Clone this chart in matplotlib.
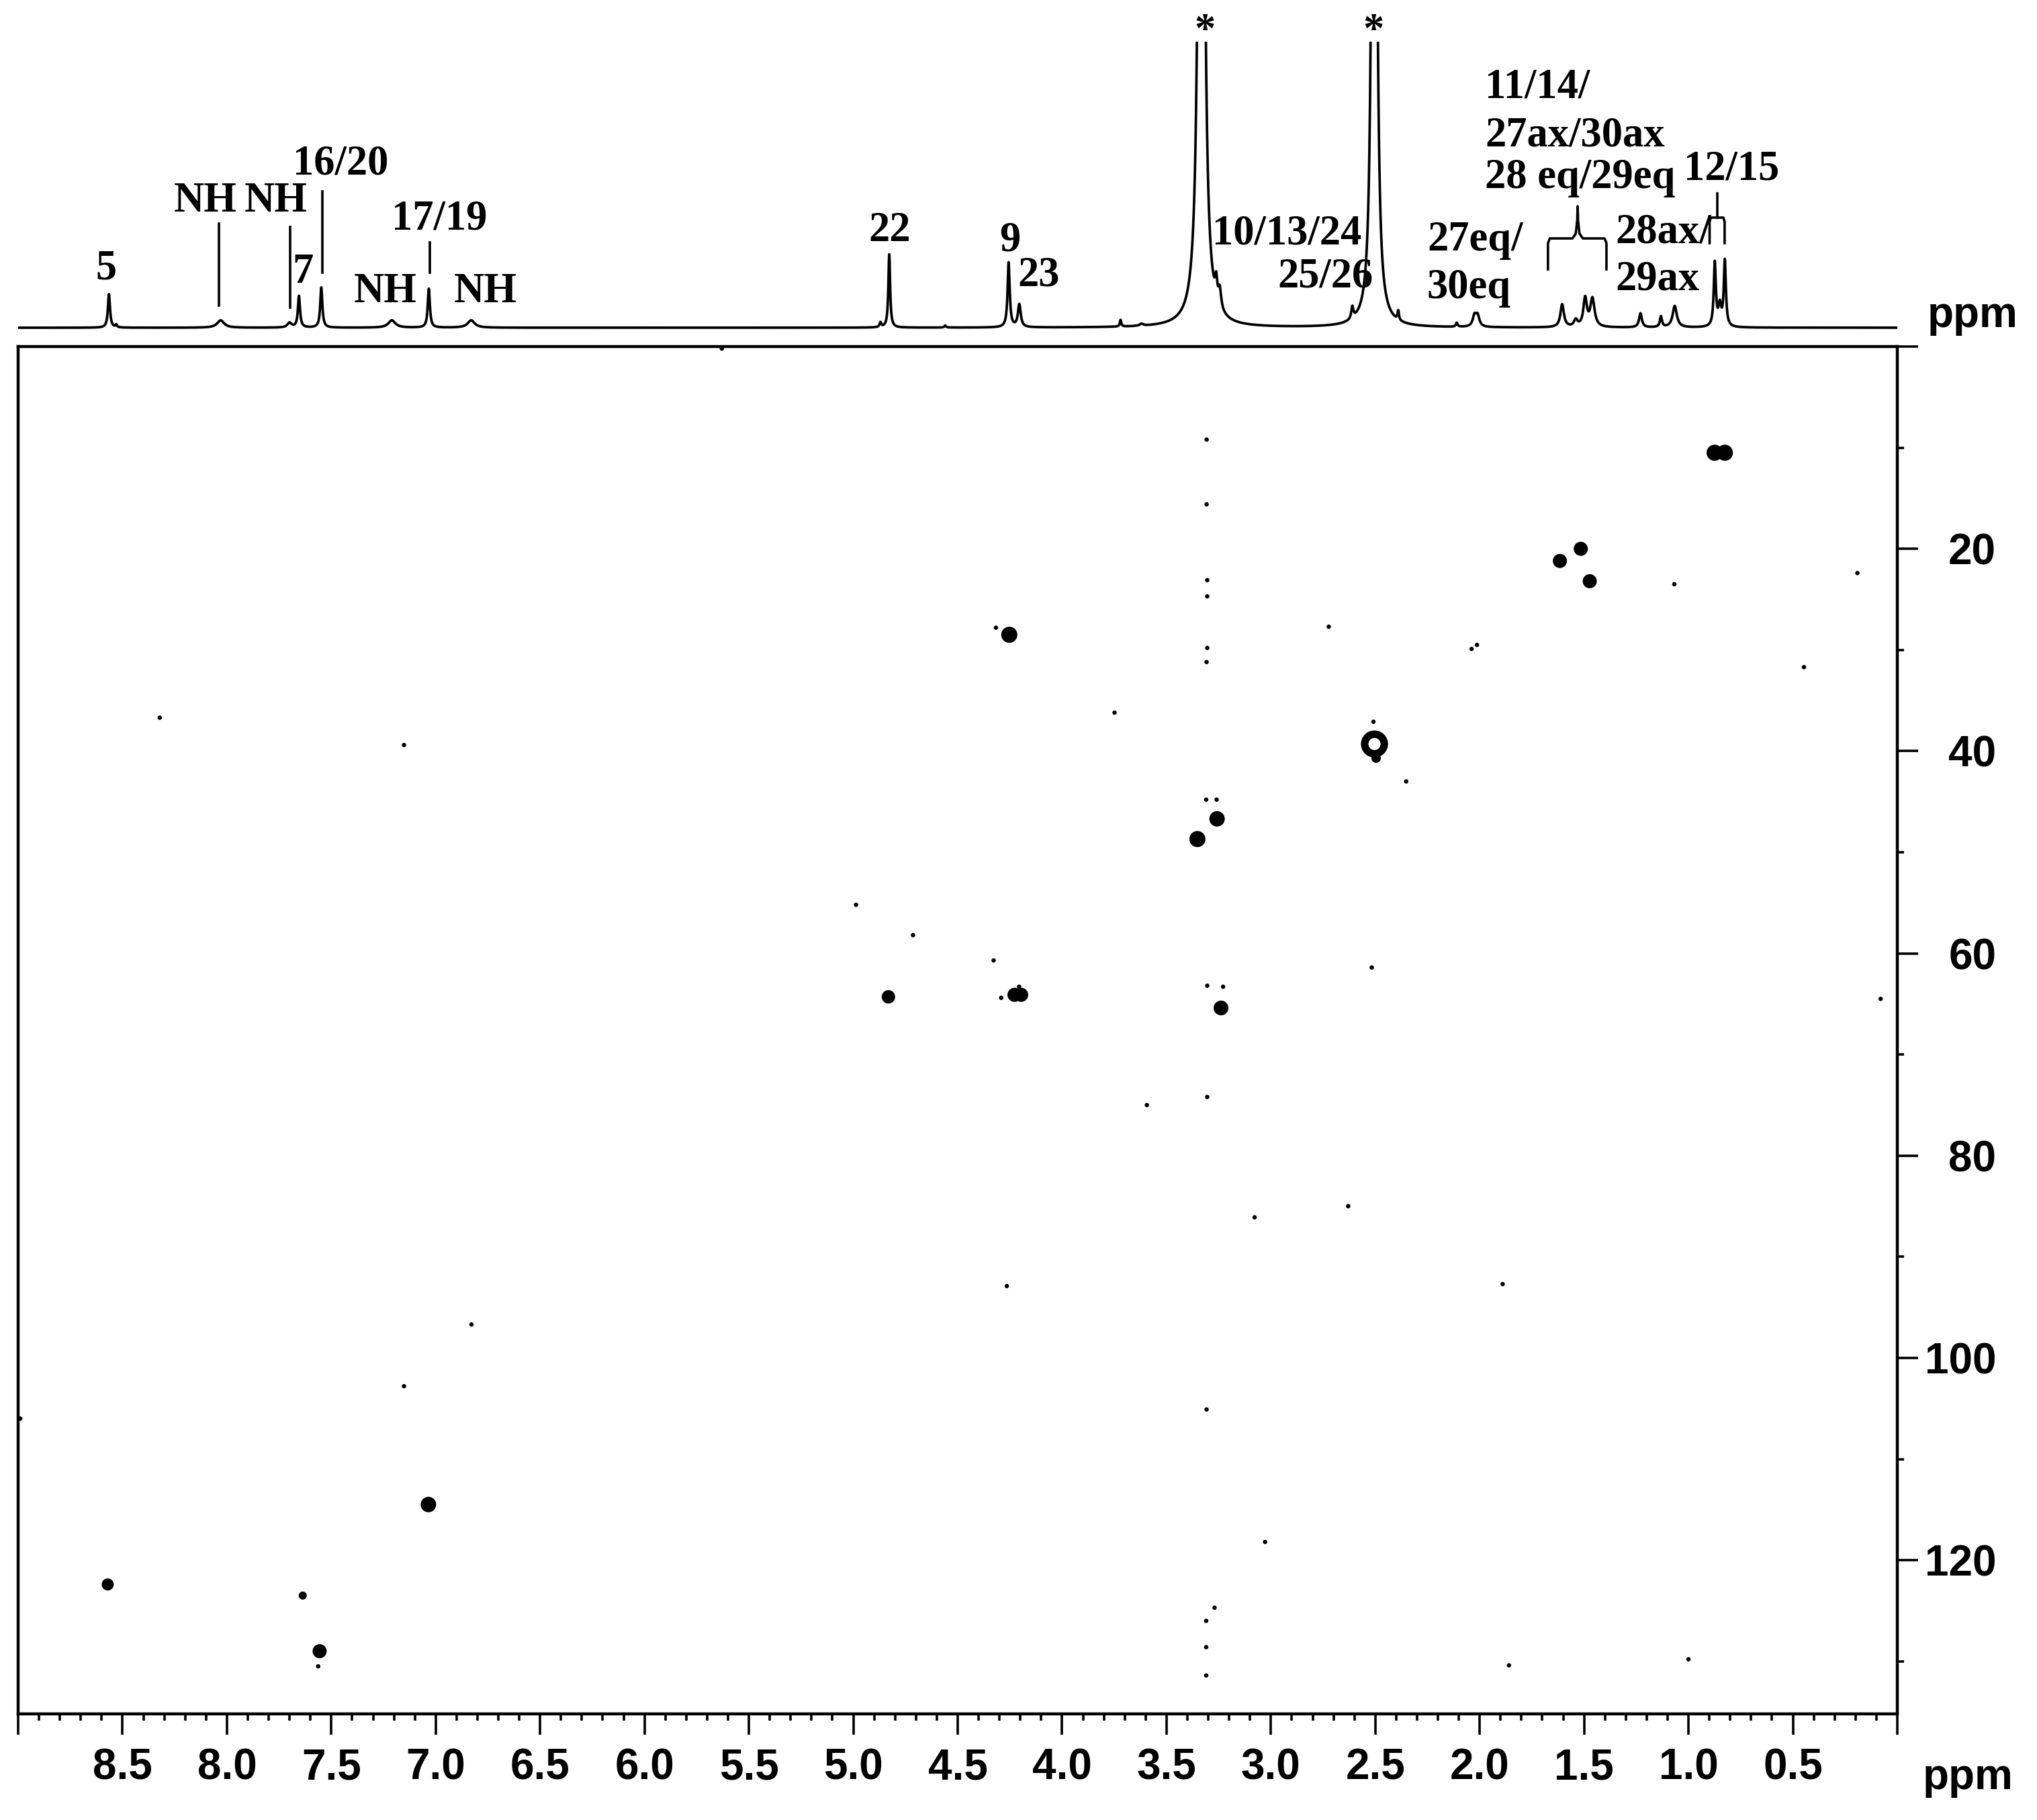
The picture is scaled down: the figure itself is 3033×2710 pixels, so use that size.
import numpy as np
import matplotlib.pyplot as plt
from matplotlib.ticker import FixedLocator, MultipleLocator, FuncFormatter

# 1H trace on top: shift (ppm), peak height (px above baseline), half width (ppm)
h_shift = [8.565, 8.53, 8.03, 7.70, 7.655, 7.548, 7.21, 7.033, 6.83,
           4.87, 4.828, 4.56, 4.256, 4.205, 3.72, 3.62,
           3.333, 3.262, 3.245, 2.61, 2.505, 2.39, 2.11, 2.025, 2.01,
           1.605, 1.54, 1.495, 1.46, 1.23, 1.132, 1.066, 0.874, 0.85, 0.826]
h_height = [50, 4, 11, 7, 47, 60, 11, 58, 11,
            7, 110, 3, 97, 34, 10, 3,
            2000, 30, 28, 18, 2500, 14, 6, 16, 16,
            34, 10, 42, 42, 21, 16, 32, 95, 30, 98]
h_width = [0.006, 0.004, 0.02, 0.012, 0.006, 0.006, 0.02, 0.006, 0.02,
           0.005, 0.005, 0.005, 0.006, 0.008, 0.004, 0.01,
           0.0112, 0.006, 0.008, 0.006, 0.008, 0.004, 0.005, 0.01, 0.01,
           0.01, 0.01, 0.01, 0.012, 0.008, 0.006, 0.012, 0.006, 0.008, 0.006]

# HSQC cross peaks: 1H shift, 13C shift, spot diameter (px)
cross_h = [0.875, 0.826, 1.616, 1.516, 1.473, 4.253, 3.352, 3.258, 4.832,
           4.228, 4.196, 3.239, 7.035, 8.571, 7.637, 7.556, 2.496]
cross_c = [10.5, 10.5, 21.2, 20.0, 23.2, 28.5, 48.7, 46.7, 64.3,
           64.1, 64.1, 65.4, 114.5, 122.4, 123.5, 129.0, 40.7]
cross_diam = [24, 24, 21, 21, 21, 24, 24, 23, 20,
              21, 21, 22, 23, 18, 12, 21, 14]

# solvent (DMSO) ring
ring_h = [2.504]
ring_c = [39.3]

# weak spots / t1 noise
noise_h = [3.308, 3.308, 3.305, 3.305, 3.305, 3.308, 3.31, 3.305, 3.305,
           3.308, 3.31, 3.31, 3.31,
           8.322, 7.152, 3.749, 2.723, 2.039, 2.013, 1.068, 0.191, 0.447,
           2.352, 4.987, 4.714, 4.328, 2.517, 0.08, 3.594, 3.078, 2.63,
           4.265, 1.89, 6.829, 7.152, 8.99, 3.028, 3.27, 1.86, 1.0, 7.563,
           5.63, 2.509, 3.26, 4.317, 4.292, 3.229, 4.206]
noise_c = [9.2, 15.6, 23.1, 24.7, 29.8, 31.2, 44.8, 63.2, 74.2,
           105.1, 126.0, 128.6, 131.4,
           36.7, 39.4, 36.2, 27.7, 29.9, 29.5, 23.5, 22.4, 31.7,
           43.0, 55.2, 58.2, 60.7, 61.4, 64.5, 75.0, 86.1, 85.0,
           92.9, 92.7, 96.7, 102.8, 106.0, 118.2, 124.7, 130.4, 129.8, 130.5,
           0.2, 37.1, 44.8, 27.8, 64.4, 63.3, 63.3]

# assignment labels on the 1H trace: text, shift, height, alignment
labels = [('5', 8.579, 87, 'center'), ('NH', 8.103, 188, 'center'),
          ('NH', 7.765, 188, 'center'), ('16/20', 7.456, 243, 'center'),
          ('7', 7.635, 82, 'center'), ('17/19', 6.984, 161, 'center'),
          ('NH', 7.241, 53, 'center'), ('NH', 6.763, 53, 'center'),
          ('22', 4.825, 144, 'center'), ('9', 4.249, 130, 'center'),
          ('23', 4.111, 78, 'center'), ('*', 3.316, 440, 'center'),
          ('*', 2.509, 440, 'center'),
          ('10/13/24', 3.281, 140, 'left'), ('25/26', 2.969, 75, 'left'),
          ('27eq/', 2.252, 130, 'left'), ('30eq', 2.252, 59, 'left'),
          ('11/14/', 1.975, 357, 'left'), ('27ax/30ax', 1.975, 285, 'left'),
          ('28 eq/29eq', 1.975, 223, 'left'), ('12/15', 1.023, 235, 'left'),
          ('28ax/', 1.351, 142, 'left'), ('29ax', 1.351, 71, 'left')]

# marker lines from labels down to peaks: shift, bottom, top
ticks_1d = [(8.037, 33, 155), (7.698, 30, 150), (7.544, 82, 203), (7.029, 82, 127)]

W, H = 3033, 2710


def box(l, t, r, b):
    return [l / W, 1 - b / H, (r - l) / W, (b - t) / H]


fig = plt.figure(figsize=(W / 100, H / 100), dpi=100)

# ---- 1D proton trace
ax1 = fig.add_axes(box(27, 62, 2825, 500))
ppm = np.linspace(0, 9, 9000)
spec = np.zeros_like(ppm)
for c, a, g in zip(h_shift, h_height, h_width):
    spec += a / (1 + ((ppm - c) / g) ** 2)
ax1.plot(ppm, spec, color='k', lw=2.7)
ax1.set_xlim(9, 0)
ax1.set_ylim(-12, 426)
ax1.axis('off')

serif = dict(family='Liberation Serif', weight='bold', fontsize=45)
for txt, x, y, ha in labels:
    ax1.text(x, y, txt, ha=ha, va='center', clip_on=False, **serif)
for x, y0, y1 in ticks_1d:
    ax1.plot([x, x], [y0, y1], color='k', lw=2.6, clip_on=False)

# brace over 11/14 group and bracket over 12/15
bx = [1.673, 1.673, 1.664, 1.556, 1.540, 1.533, 1.531, 1.529, 1.522, 1.506, 1.402, 1.393, 1.393]
by = [87, 126, 133, 133, 140, 160, 181, 160, 140, 133, 133, 126, 87]
ax1.plot(bx, by, color='k', lw=2.6, clip_on=False)
kx = [0.899, 0.899, 0.893, 0.833, 0.827, 0.827]
ky = [126, 158, 164, 164, 158, 126]
ax1.plot(kx, ky, color='k', lw=2.6, clip_on=False)
ax1.plot([0.863, 0.863], [164, 200], color='k', lw=2.6, clip_on=False)

# ---- 2D HSQC
ax2 = fig.add_axes(box(27, 516, 2825, 2552))
ax2.scatter(cross_h, cross_c, s=(np.array(cross_diam) * 0.72) ** 2,
            c='k', edgecolors='none', zorder=3)
ax2.scatter(ring_h, ring_c, s=21 ** 2, facecolors='none', edgecolors='k',
            linewidths=8, zorder=3)
ax2.scatter(noise_h, noise_c, s=22, c='k', edgecolors='none', zorder=3)

ax2.set_xlim(9, 0)
ax2.set_ylim(135.2, 0)
for sp in ax2.spines.values():
    sp.set_linewidth(3.2)

ax2.xaxis.set_major_locator(FixedLocator(np.arange(0, 9.01, 0.5)))
ax2.xaxis.set_minor_locator(MultipleLocator(0.1))
ax2.xaxis.set_major_formatter(FuncFormatter(
    lambda v, p: '' if v < 0.01 or v > 8.99 else f'{v:.1f}'))
ax2.yaxis.set_major_locator(FixedLocator(np.arange(0, 121, 20)))
ax2.yaxis.set_minor_locator(FixedLocator(np.arange(10, 131, 20)))
ax2.yaxis.set_major_formatter(FuncFormatter(
    lambda v, p: '' if v < 1 else f'{v:.0f}'))
ax2.yaxis.tick_right()

ax2.tick_params(which='major', direction='out', length=22, width=2.6)
ax2.tick_params(which='minor', direction='out', length=7.5, width=2.6)
ax2.tick_params(axis='x', which='major', pad=14)
ax2.tick_params(axis='y', which='major', pad=84)
for lab in ax2.get_xticklabels() + ax2.get_yticklabels():
    lab.set_family('Liberation Sans')
    lab.set_weight('bold')
    lab.set_fontsize(46)
for lab in ax2.get_yticklabels():
    lab.set_ha('right')

sans = dict(family='Liberation Sans', weight='bold', fontsize=46,
            ha='center', va='center')
fig.text(2930 / W, 1 - 2647 / H, 'ppm', **sans)
fig.text(2937 / W, 1 - 470 / H, 'ppm', **sans)

fig.savefig('out.png', dpi=100)
